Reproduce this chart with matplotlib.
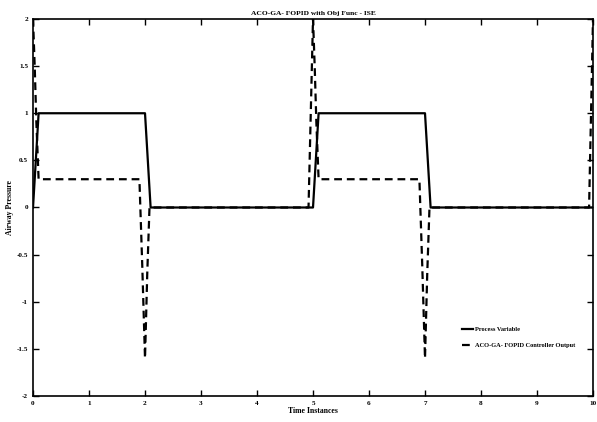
import numpy as np
import matplotlib.pyplot as plt

plt.rcParams['font.family'] = ['Liberation Serif', 'DejaVu Serif']
plt.rcParams['font.weight'] = 'bold'

# process variable (solid)
t_pv = [0, 0.1, 2.0, 2.1, 5.0, 5.1, 7.0, 7.1, 10.0]
y_pv = [0, 1.0, 1.0, 0.0, 0.0, 1.0, 1.0, 0.0, 0.0]

# controller output (dashed)
t_co = [0, 0.03, 0.06, 0.1, 1.9, 1.95, 2.0, 2.04, 2.08, 4.92, 5.0, 5.03, 5.06, 5.1,
        6.9, 6.95, 7.0, 7.04, 7.08, 9.93, 10.0]
y_co = [2.0, 1.5, 0.9, 0.3, 0.3, -0.6, -1.6, -0.7, 0.0, 0.0, 2.0, 1.5, 0.9, 0.3,
        0.3, -0.6, -1.6, -0.7, 0.0, 0.0, 2.0]

xticks = np.arange(0, 11, 1)
yticks = [-2, -1.5, -1, -0.5, 0, 0.5, 1, 1.5, 2]
yticklabels = ['-2', '-1.5', '-1', '-0.5', '0', '0.5', '1', '1.5', '2']

fig = plt.figure(figsize=(5.97, 4.22), dpi=100)
ax = fig.add_axes([0.0553, 0.0616, 0.938, 0.8934])

ax.plot(t_pv, y_pv, color='black', lw=1.6, label='Process Variable')
ax.plot(t_co, y_co, color='black', lw=1.6, ls=(0, (3.5, 2.2)),
        label='ACO-GA- FOPID Controller Output')

ax.set_xlim(0, 10)
ax.set_ylim(-2, 2)
ax.set_xticks(xticks)
ax.set_yticks(yticks)
ax.set_yticklabels(yticklabels)
ax.tick_params(direction='in', top=True, right=True, labelsize=5.2, length=4, width=1)
for s in ax.spines.values():
    s.set_linewidth(1.2)

ax.set_title('ACO-GA- FOPID with Obj Func - ISE', fontsize=5.4, fontweight='bold', pad=3)
ax.set_xlabel('Time Instances', fontsize=5.6, fontweight='bold', labelpad=1)
ax.set_ylabel('Airway Pressure', fontsize=5.6, fontweight='bold', labelpad=2)

ax.legend(loc='upper left', bbox_to_anchor=(0.755, 0.2), frameon=False,
          fontsize=4.6, handlelength=1.8, handletextpad=0.3, labelspacing=1.7)

fig.savefig('out.png', dpi=100)
